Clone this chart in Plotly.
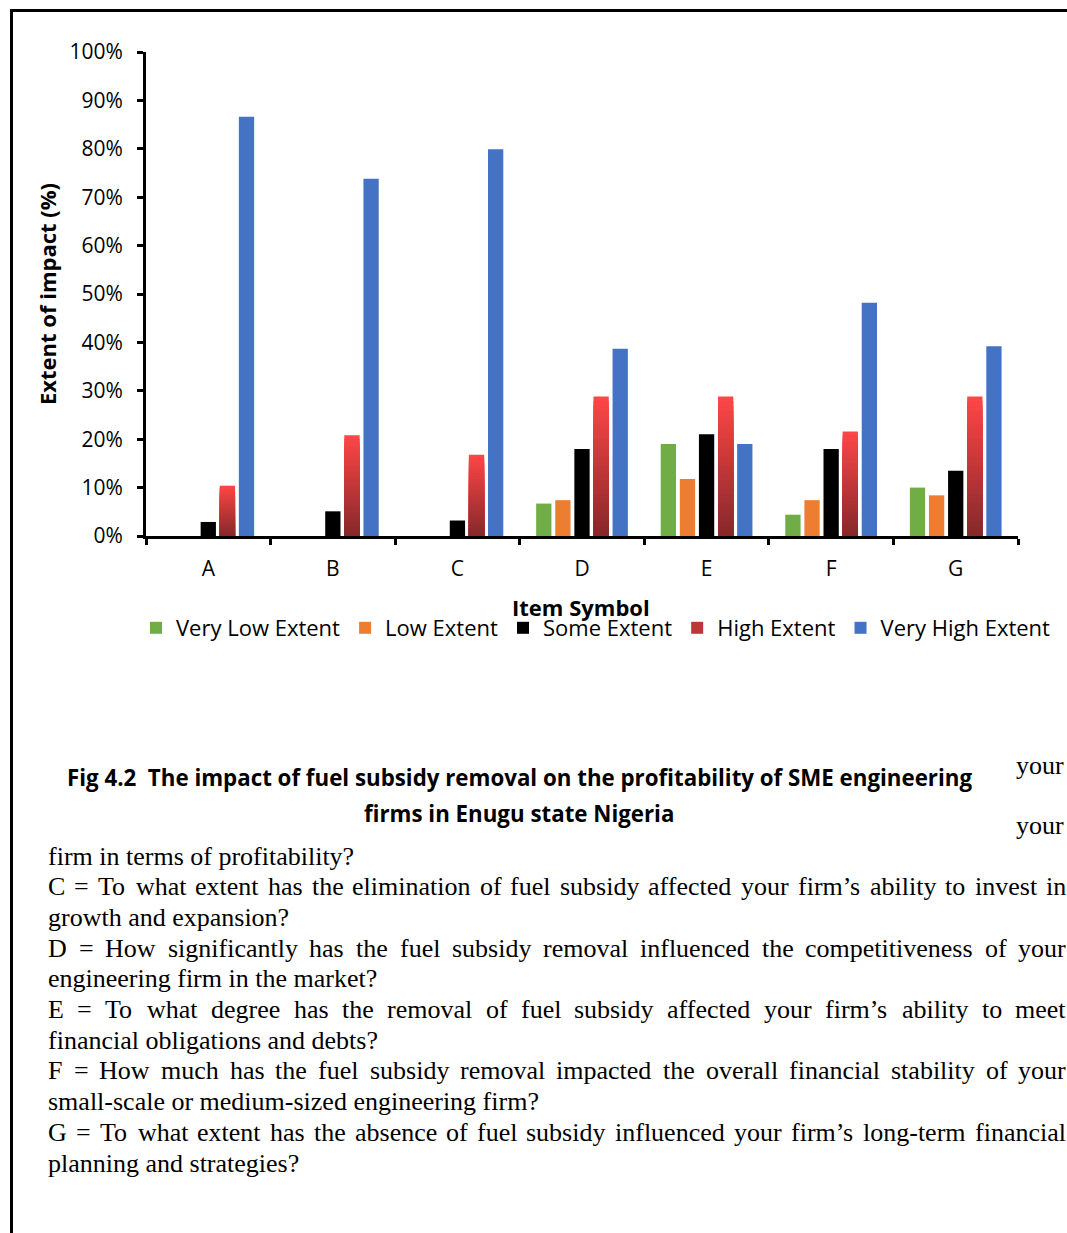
import plotly.graph_objects as go

# ---------------- data ----------------
categories = ["A", "B", "C", "D", "E", "F", "G"]
series_names = ["Very Low Extent", "Low Extent", "Some Extent", "High Extent", "Very High Extent"]
very_low = [0.0, 0.0, 0.0, 0.067, 0.190, 0.044, 0.100]
low = [0.0, 0.0, 0.0, 0.074, 0.118, 0.074, 0.084]
some = [0.029, 0.051, 0.032, 0.180, 0.210, 0.180, 0.135]
high = [0.104, 0.208, 0.168, 0.288, 0.288, 0.216, 0.288]
very_high = [0.866, 0.738, 0.799, 0.387, 0.190, 0.482, 0.392]
y_ticks = [0, 0.1, 0.2, 0.3, 0.4, 0.5, 0.6, 0.7, 0.8, 0.9, 1.0]

title_lines = [
    "Fig 4.2  The impact of fuel subsidy removal on the profitability of SME engineering",
    "firms in Enugu state Nigeria",
]
body_lines = [
    ("firm in terms of profitability?", False),
    ("C = To what extent has the elimination of fuel subsidy affected your firm\u2019s ability to invest in", True),
    ("growth and expansion?", False),
    ("D = How significantly has the fuel subsidy removal influenced the competitiveness of your", True),
    ("engineering firm in the market?", False),
    ("E = To what degree has the removal of fuel subsidy affected your firm\u2019s ability to meet", True),
    ("financial obligations and debts?", False),
    ("F = How much has the fuel subsidy removal impacted the overall financial stability of your", True),
    ("small-scale or medium-sized engineering firm?", False),
    ("G = To what extent has the absence of fuel subsidy influenced your firm\u2019s long-term financial", True),
    ("planning and strategies?", False),
]

# ---------------- geometry helpers ----------------
W, H = 1067, 1233
PL, PR, PT, PB = 146, 1018, 52, 536


def X(p):
    return (p - PL) / (PR - PL)


def Y(p):
    return (PB - p) / (PB - PT)


SANS = "Open Sans"
SERIF = "Liberation Serif"

fig = go.Figure()

colors = {"Very Low Extent": "#70AD47", "Low Extent": "#ED7D31",
          "Some Extent": "#000000", "Very High Extent": "#4472C4"}

fig.add_trace(go.Bar(x=categories, y=very_low, name=series_names[0], offsetgroup="1",
                     marker=dict(color=colors[series_names[0]], line=dict(width=0))))
fig.add_trace(go.Bar(x=categories, y=low, name=series_names[1], offsetgroup="2",
                     marker=dict(color=colors[series_names[1]], line=dict(width=0))))
fig.add_trace(go.Bar(x=categories, y=some, name=series_names[2], offsetgroup="3",
                     marker=dict(color=colors[series_names[2]], line=dict(width=0))))

# gradient red bars: overlapping bars, each shorter one drawn on top with darker colour
N = 30
top_c = (255, 70, 70)
bot_c = (134, 40, 42)
for k in range(N):
    f = (N - k) / N
    m = f - 0.5 / N
    c = tuple(int(round(bot_c[i] + (top_c[i] - bot_c[i]) * m)) for i in range(3))
    fig.add_trace(go.Bar(x=categories, y=[v * f for v in high], name=series_names[3],
                         offsetgroup="4", legendgroup="high",
                         showlegend=(k == N // 2),
                         marker=dict(color="rgb(%d,%d,%d)" % c, line=dict(width=0)),
                         hoverinfo="skip"))

fig.add_trace(go.Bar(x=categories, y=very_high, name=series_names[4], offsetgroup="5",
                     marker=dict(color=colors[series_names[4]], line=dict(width=0))))

fig.update_layout(
    width=W, height=H,
    margin=dict(l=PL, r=W - PR, t=PT, b=H - PB, pad=0),
    paper_bgcolor="white", plot_bgcolor="white",
    barmode="group", bargap=0.233, bargroupgap=0.2,
    font=dict(family=SANS, color="black"),
    showlegend=True,
    legend=dict(orientation="h", x=X(136), xanchor="left", y=Y(607), yanchor="top",
                font=dict(family=SANS, size=22, color="black"),
                traceorder="normal", itemclick=False),
    yaxis=dict(range=[0, 1.0], tickvals=y_ticks, tickformat=".0%",
               showgrid=False, zeroline=False,
               showline=True, linecolor="black", linewidth=3,
               ticks="outside", ticklen=6, tickwidth=3, tickcolor="black",
               ticklabelstandoff=10,
               tickfont=dict(family=SANS, size=21, color="black")),
    xaxis=dict(showgrid=False, zeroline=False,
               showline=True, linecolor="black", linewidth=3,
               ticks="outside", ticklen=6, tickwidth=3, tickcolor="black",
               tickson="boundaries", ticklabelstandoff=12,
               tickfont=dict(family=SANS, size=21, color="black")),
)

ann = []
ann.append(dict(x=X(47), y=Y(294), xref="paper", yref="paper",
                text="<b>Extent of impact (%)</b>", textangle=-90, showarrow=False,
                xanchor="center", yanchor="middle",
                font=dict(family=SANS, size=22, color="black")))
ann.append(dict(x=X(581), y=Y(607), xref="paper", yref="paper",
                text="<b>Item Symbol</b>", showarrow=False,
                xanchor="center", yanchor="middle",
                font=dict(family=SANS, size=22, color="black")))
for i, t in enumerate(title_lines):
    ann.append(dict(x=X(519), y=Y(777 + 36 * i), xref="paper", yref="paper",
                    text="<b>%s</b>" % t, showarrow=False,
                    xanchor="center", yanchor="middle",
                    font=dict(family=SANS, size=22.3, color="black")))

# Times-compatible advance widths (per 1000 em)
TW = {' ': 250, 'a': 444, 'b': 500, 'c': 444, 'd': 500, 'e': 444, 'f': 333, 'g': 500, 'h': 500,
      'i': 278, 'j': 278, 'k': 500, 'l': 278, 'm': 778, 'n': 500, 'o': 500, 'p': 500, 'q': 500,
      'r': 333, 's': 389, 't': 278, 'u': 500, 'v': 500, 'w': 722, 'x': 500, 'y': 500, 'z': 444,
      'A': 722, 'B': 667, 'C': 667, 'D': 722, 'E': 611, 'F': 556, 'G': 722, 'H': 722, 'T': 611,
      '=': 564, '\u2019': 333, '?': 444, '-': 333, '.': 250, ',': 250}
FS = 26


def tw(s):
    return sum(TW.get(ch, 500) for ch in s) * FS / 1000.0


LEFT, RIGHT = 47, 1065
for i, (line, just) in enumerate(body_lines):
    yy = Y(856 + 30.7 * i)
    if not just:
        ann.append(dict(x=X(LEFT), y=yy, xref="paper", yref="paper", text=line,
                        showarrow=False, xanchor="left", yanchor="middle", borderpad=0,
                        font=dict(family=SERIF, size=FS, color="black")))
    else:
        words = line.split(" ")
        total = sum(tw(w) for w in words)
        gap = (RIGHT - LEFT - total) / (len(words) - 1)
        xx = LEFT
        for w in words:
            ann.append(dict(x=X(xx), y=yy, xref="paper", yref="paper", text=w,
                            showarrow=False, xanchor="left", yanchor="middle", borderpad=0,
                            font=dict(family=SERIF, size=FS, color="black")))
            xx += tw(w) + gap

for yv in (765, 825):
    ann.append(dict(x=X(1065), y=Y(yv), xref="paper", yref="paper", text="your",
                    showarrow=False, xanchor="right", yanchor="middle", borderpad=0,
                    font=dict(family=SERIF, size=FS, color="black")))

fig.update_layout(annotations=ann)

# page frame lines
fig.add_shape(type="line", xref="paper", yref="paper", x0=X(11.5), x1=X(11.5), y0=Y(9), y1=Y(1240),
              line=dict(color="black", width=3))
fig.add_shape(type="line", xref="paper", yref="paper", x0=X(10), x1=X(1070), y0=Y(10.5), y1=Y(10.5),
              line=dict(color="black", width=3))

fig.write_html("out.html",
               config={"displayModeBar": False},
               post_script="document.body.style.margin='0';document.body.style.overflow='hidden';")
